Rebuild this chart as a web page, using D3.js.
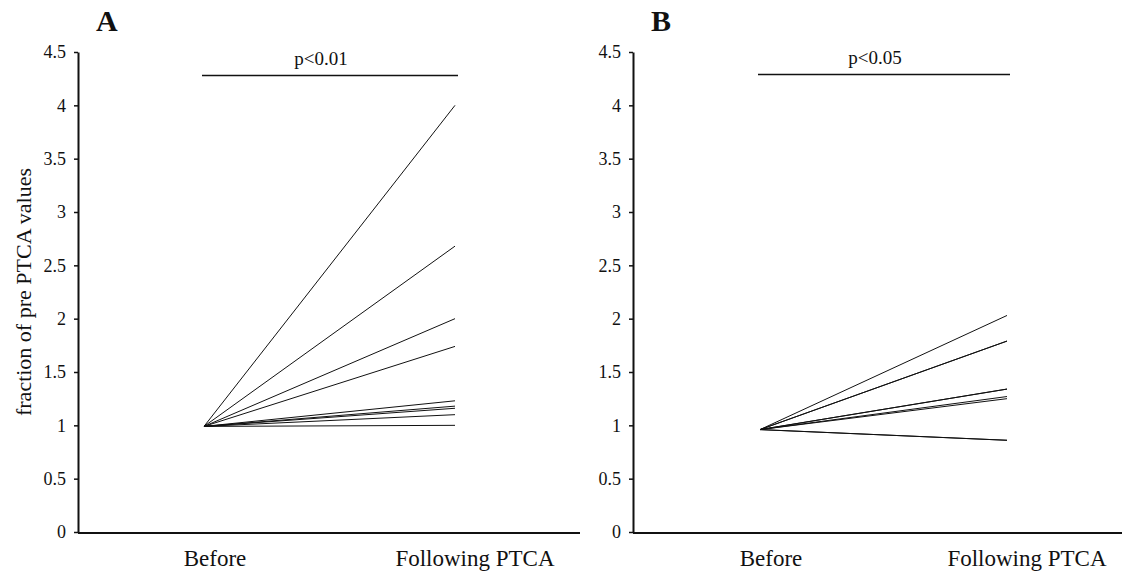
<!DOCTYPE html>
<html>
<head>
<meta charset="utf-8">
<script src="https://cdn.jsdelivr.net/npm/d3@7"></script>
<style>
  body { margin: 0; background: #fff; }
  text { font-family: "Liberation Serif", "Times New Roman", serif; fill: #111; }
</style>
</head>
<body>
<div id="chart"></div>
<script>
// values
const categories = ["Before", "Following PTCA"];
const yTicks = [0, 0.5, 1, 1.5, 2, 2.5, 3, 3.5, 4, 4.5];
const panelNames = ["A", "B"];
const pLabels = ["p<0.01", "p<0.05"];
const sigLevels = [4.28, 4.29];
const beforeA = [0.99, 0.99, 0.99, 0.99, 0.99, 0.99, 0.99, 0.99, 0.99];
const afterA  = [4.0, 2.68, 2.0, 1.74, 1.23, 1.18, 1.16, 1.10, 1.0];
const beforeB = [0.96, 0.96, 0.96, 0.96, 0.96, 0.96, 0.96, 0.96, 0.96];
const afterB  = [2.03, 1.79, 1.79, 1.34, 1.34, 1.27, 1.25, 0.86, 0.86];

const W = 1124, H = 574;
const serif = '"Liberation Serif", "Times New Roman", serif';
const svg = d3.select('#chart').append('svg')
  .attr('width', W).attr('height', H);

const y = d3.scaleLinear().domain([0, 4.5]).range([532, 52]);

const panels = [
  {name: panelNames[0], p: pLabels[0], sig: sigLevels[0], before: beforeA, after: afterA,
   axisX: 78, axisEnd: 580, range: [204, 455]},
  {name: panelNames[1], p: pLabels[1], sig: sigLevels[1], before: beforeB, after: afterB,
   axisX: 633, axisEnd: 1122, range: [760, 1007]}
];
// label nudges to the right of the line ends
const labelShift = {"Before": 11, "Following PTCA": 20};

panels.forEach(function(pn) {
  const g = svg.append('g');
  const x = d3.scalePoint().domain(categories).range(pn.range);

  // y axis
  const ax = g.append('g')
    .attr('transform', 'translate(' + pn.axisX + ',0)')
    .call(d3.axisLeft(y).tickValues(yTicks).tickSize(4).tickSizeOuter(0).tickPadding(8)
      .tickFormat(d3.format('')));
  ax.attr('font-family', serif).attr('font-size', 18);
  ax.select('.domain').attr('stroke', '#111').attr('stroke-width', 2);
  ax.selectAll('.tick line').attr('stroke', '#111').attr('stroke-width', 1.5);
  ax.selectAll('.tick text').attr('fill', '#111');

  // x axis line
  g.append('line')
    .attr('x1', pn.axisX).attr('x2', pn.axisEnd)
    .attr('y1', y(0) + 1).attr('y2', y(0) + 1)
    .attr('stroke', '#111').attr('stroke-width', 2);

  g.selectAll('text.cat')
    .data(categories)
    .enter().append('text')
    .attr('class', 'cat')
    .attr('x', function(d) { return x(d) + labelShift[d]; })
    .attr('y', 566)
    .attr('text-anchor', 'middle')
    .style('font-size', '23px')
    .text(function(d) { return d; });

  // patient lines
  g.selectAll('line.pt')
    .data(pn.after)
    .enter().append('line')
    .attr('class', 'pt')
    .attr('x1', x(categories[0]))
    .attr('y1', function(d, i) { return y(pn.before[i]); })
    .attr('x2', x(categories[1]))
    .attr('y2', function(d) { return y(d); })
    .attr('stroke', '#111')
    .attr('stroke-width', 1);

  // significance bar
  const x0 = x(categories[0]) - 2, x1 = x(categories[1]) + 3;
  g.append('line')
    .attr('x1', x0).attr('x2', x1)
    .attr('y1', y(pn.sig)).attr('y2', y(pn.sig))
    .attr('stroke', '#111').attr('stroke-width', 1.5);
  g.append('text')
    .attr('x', (x0 + x1) / 2 - 9)
    .attr('y', y(pn.sig) - 10)
    .attr('text-anchor', 'middle')
    .style('font-size', '19px')
    .text(pn.p);

  // panel letter
  g.append('text')
    .attr('x', pn.axisX + 18)
    .attr('y', 31)
    .style('font-size', '30px')
    .style('font-weight', 'bold')
    .text(pn.name);
});

svg.append('text')
  .attr('transform', 'translate(31,' + y(2.25) + ') rotate(-90)')
  .attr('text-anchor', 'middle')
  .style('font-size', '22px')
  .text('fraction of pre PTCA values');
</script>
</body>
</html>
